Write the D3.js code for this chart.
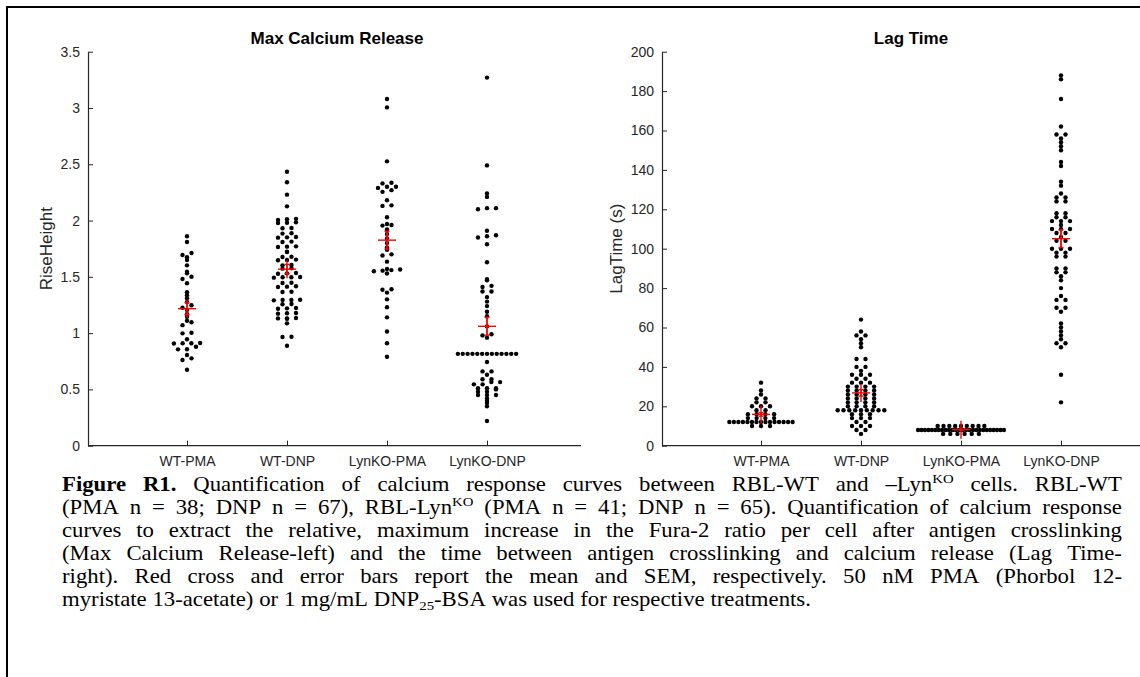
<!DOCTYPE html>
<html><head><meta charset="utf-8">
<script src="https://cdn.jsdelivr.net/npm/d3@7"></script>
<style>html,body{margin:0;padding:0;background:#fff}svg{display:block}</style>
</head><body>
<svg id="c" width="1140" height="677"></svg>
<script>
// ---------------- data ----------------
const categories = ["WT-PMA", "WT-DNP", "LynKO-PMA", "LynKO-DNP"];

// Max Calcium Release (RiseHeight)
const riseWTPMA = [1.86,1.81,1.712,1.694,1.674,1.65,1.602,1.546,1.531,1.501,1.481,1.443,1.363,1.336,1.309,1.277,1.247,1.226,1.205,1.17,1.146,1.11,1.096,1.071,1.004,0.998,0.945,0.912,0.91,0.908,0.91,0.879,0.856,0.857,0.806,0.776,0.761,0.675];
const riseWTDNP = [2.434,2.34,2.23,2.126,2.011,2.006,2.015,1.981,1.984,1.978,1.931,1.934,1.887,1.884,1.851,1.848,1.854,1.813,1.81,1.768,1.765,1.771,1.724,1.72,1.679,1.676,1.65,1.647,1.653,1.605,1.602,1.576,1.573,1.531,1.528,1.534,1.496,1.493,1.499,1.496,1.448,1.445,1.413,1.41,1.416,1.368,1.365,1.294,1.291,1.297,1.294,1.259,1.256,1.22,1.217,1.223,1.176,1.173,1.179,1.131,1.128,1.134,1.131,1.087,0.968,0.966,0.888];
const riseLynPMA = [3.08,3.005,2.526,2.336,2.33,2.30,2.30,2.29,2.27,2.255,2.18,2.135,2.13,2.03,1.97,1.96,1.955,1.92,1.88,1.84,1.80,1.76,1.74,1.70,1.69,1.635,1.57,1.565,1.56,1.555,1.55,1.53,1.39,1.385,1.36,1.30,1.23,1.14,1.015,0.91,0.79];
const riseLynDNP = [3.27,2.49,2.24,2.21,2.11,2.11,2.10,1.91,1.87,1.86,1.85,1.79,1.63,1.48,1.47,1.42,1.41,1.37,1.37,1.32,1.28,1.24,1.19,1.15,1.06,0.99,0.98,0.96,0.816,0.816,0.816,0.816,0.816,0.816,0.816,0.816,0.816,0.816,0.816,0.816,0.816,0.744,0.66,0.66,0.63,0.59,0.59,0.565,0.565,0.545,0.545,0.51,0.51,0.51,0.50,0.48,0.48,0.45,0.45,0.45,0.42,0.40,0.38,0.35,0.22];

// Lag Time (s)
const lagWTPMA = [32,28,26,24,24,22,22,20,20,20,18,18,16,16,16,16,14,14,14,14,12,12,12,12,12,12,12,12,12,12,12,12,12,12,12,10,10,10];
const lagWTDNP = [64,58,56,56,54,52,50,44,44,40,40,38,36,36,36,34,34,32,32,32,30,30,30,30,28,28,28,28,26,26,26,26,24,24,24,24,22,22,22,22,20,20,20,20,18,18,18,18,18,18,18,18,18,16,16,16,14,14,14,12,12,10,10,10,8,8,6];
const lagLynPMA = [10,10,10,10,10,10,10,10,10,8,8,8,8,8,8,8,8,8,8,8,8,8,8,8,8,8,8,8,8,8,8,8,8,8,8,6,6,6,6,6,6];
const lagLynDNP = [188,186,176,162,158,158,156,154,152,150,144,142,134,132,128,126,126,124,124,118,118,116,116,114,114,114,112,110,110,110,108,108,106,104,104,100,100,100,98,98,96,96,90,90,88,88,86,84,80,76,74,74,70,70,68,62,60,58,56,54,52,52,50,36,22];

const riseTicks = [0,0.5,1,1.5,2,2.5,3,3.5];
const lagTicks = [0,20,40,60,80,100,120,140,160,180,200];

const captionLines = [
  "Figure R1. Quantification of calcium response curves between RBL-WT and \u2013Lyn^{KO} cells. RBL-WT",
  "(PMA n = 38; DNP n = 67), RBL-Lyn^{KO} (PMA n = 41; DNP n = 65). Quantification of calcium response",
  "curves to extract the relative, maximum increase in the Fura-2 ratio per cell after antigen crosslinking",
  "(Max Calcium Release-left) and the time between antigen crosslinking and calcium release (Lag Time-",
  "right). Red cross and error bars report the mean and SEM, respectively. 50 nM PMA (Phorbol 12-",
  "myristate 13-acetate) or 1 mg/mL DNP_{25}-BSA was used for respective treatments."
];

// ---------------- drawing ----------------
const svg = d3.select("#c");
const AX = "#262626";
const SANS = "'Liberation Sans', Arial, Helvetica, sans-serif";
const yTop = 51.7, yBot = 445.7;

svg.append("rect").attr("x", 7).attr("y", 7).attr("width", 1200).attr("height", 760)
  .attr("fill", "none").attr("stroke", "#000").attr("stroke-width", 2);

function swarm(values, y, binH) {
  const pts = values.map(v => ({ v, py: y(v) }));
  const bins = d3.group(pts, p => Math.floor(p.py / binH));
  const out = [];
  for (const arr of bins.values()) {
    arr.sort((a, b) => a.v - b.v);
    const n = arr.length;
    const s = n <= 1 ? 0 : Math.min(9, 17.5 / Math.sqrt(n));
    arr.forEach((p, i) => out.push({ v: p.v, dx: (i - (n - 1) / 2) * s }));
  }
  return out;
}

function panel(o) {
  const g = svg.append("g");
  const x = d3.scaleLinear().domain([0, 5]).range(o.xr);
  const y = d3.scaleLinear().domain(o.yd).range([yBot, yTop]);

  const gx = g.append("g").attr("transform", `translate(0,${yBot})`)
    .call(d3.axisBottom(x).tickValues([1, 2, 3, 4]).tickFormat(d => categories[d - 1])
      .tickSizeInner(-5).tickSizeOuter(0).tickPadding(10));
  const gy = g.append("g").attr("transform", `translate(${o.yAxisX},0)`)
    .call(d3.axisLeft(y).tickValues(o.ticks).tickFormat(d => String(d))
      .tickSizeInner(-5).tickSizeOuter(0).tickPadding(8));
  gx.select(".domain").attr("d", `M${o.yAxisX},0H${o.xEnd}`);
  [gx, gy].forEach(a => {
    a.select(".domain").attr("stroke", AX).attr("stroke-width", 1.2);
    a.selectAll(".tick line").attr("stroke", AX).attr("stroke-width", 1);
    a.selectAll(".tick text").attr("fill", AX).attr("font-family", SANS).attr("font-size", 14);
  });

  g.append("text").attr("x", (o.xr[0] + o.xr[1]) / 2).attr("y", 43.5)
    .attr("text-anchor", "middle").attr("font-family", SANS).attr("font-weight", "bold")
    .attr("font-size", 17).attr("fill", "#000").text(o.title);

  g.append("text").attr("transform", `translate(${o.ylabX},${(yTop + yBot) / 2}) rotate(-90)`)
    .attr("text-anchor", "middle").attr("dy", "0.35em").attr("font-family", SANS)
    .attr("font-size", 17).attr("fill", AX).text(o.ylabel);

  o.groups.forEach((vals, i) => {
    const cx = x(i + 1);
    const pts = swarm(vals, y, 3.5);
    g.append("g").selectAll("circle").data(pts).join("circle")
      .attr("cx", d => cx + d.dx).attr("cy", d => y(d.v)).attr("r", 2.2).attr("fill", "#000");
    const m = d3.mean(vals), sem = d3.deviation(vals) / Math.sqrt(vals.length);
    const r = g.append("g").attr("stroke", "#ff0000").attr("stroke-width", 1.4).attr("fill", "none");
    r.append("line").attr("x1", cx - 9).attr("x2", cx + 9).attr("y1", y(m)).attr("y2", y(m));
    r.append("line").attr("x1", cx).attr("x2", cx).attr("y1", y(m) - 9).attr("y2", y(m) + 9);
    r.append("line").attr("x1", cx).attr("x2", cx).attr("y1", y(m - sem)).attr("y2", y(m + sem));
    [m - sem, m + sem].forEach(v => r.append("line").attr("x1", cx - 2.5).attr("x2", cx + 2.5).attr("y1", y(v)).attr("y2", y(v)));
  });
}

panel({ xr: [87, 587], yAxisX: 88, xEnd: 581, yd: [0, 3.5], ticks: riseTicks, title: "Max Calcium Release",
  ylabel: "RiseHeight", ylabX: 46, groups: [riseWTPMA, riseWTDNP, riseLynPMA, riseLynDNP] });
panel({ xr: [661, 1161], yAxisX: 662, xEnd: 1161, yd: [0, 200], ticks: lagTicks, title: "Lag Time",
  ylabel: "LagTime (s)", ylabX: 616.5, groups: [lagWTPMA, lagWTDNP, lagLynPMA, lagLynDNP] });

// ---------------- caption (justified) ----------------
const capFont = 20, capX0 = 62, capX1 = 1122, capBase0 = 490.5, capLH = 23, lastLineEnd = 811;
const cap = svg.append("g").attr("font-family", "'Liberation Serif', 'Times New Roman', serif")
  .attr("font-size", capFont).attr("fill", "#000");
const lines = captionLines.map((line, li) => line.split(" ").map((w, wi) => {
  const t = cap.append("text");
  if (li === 0 && wi < 2) t.attr("font-weight", "bold");
  let shift = 0;
  w.split(/(\^\{[^}]*\}|_\{[^}]*\})/).filter(s => s).forEach(p => {
    let target = 0, txt = p, small = false;
    if (p.startsWith("^{")) { target = -capFont * 0.38; txt = p.slice(2, -1); small = true; }
    else if (p.startsWith("_{")) { target = capFont * 0.2; txt = p.slice(2, -1); small = true; }
    const ts = t.append("tspan").attr("dy", target - shift).text(txt);
    if (small) ts.attr("font-size", capFont * 0.65);
    shift = target;
  });
  return { t, w: t.node().getComputedTextLength() };
}));
const spaceW = capFont * 0.25;
const last = lines[lines.length - 1];
const lastNat = d3.sum(last, d => d.w) + spaceW * (last.length - 1);
const sx = (lastLineEnd - capX0) / lastNat;
lines.forEach((ws, li) => {
  const sumW = d3.sum(ws, d => d.w);
  const gap = li < lines.length - 1 ? ((capX1 - capX0) / sx - sumW) / (ws.length - 1) : spaceW;
  let pos = 0;
  ws.forEach(d => {
    d.t.attr("transform", `translate(${capX0 + pos * sx},${capBase0 + li * capLH}) scale(${sx},1)`);
    pos += d.w + gap;
  });
});
</script>
</body></html>
